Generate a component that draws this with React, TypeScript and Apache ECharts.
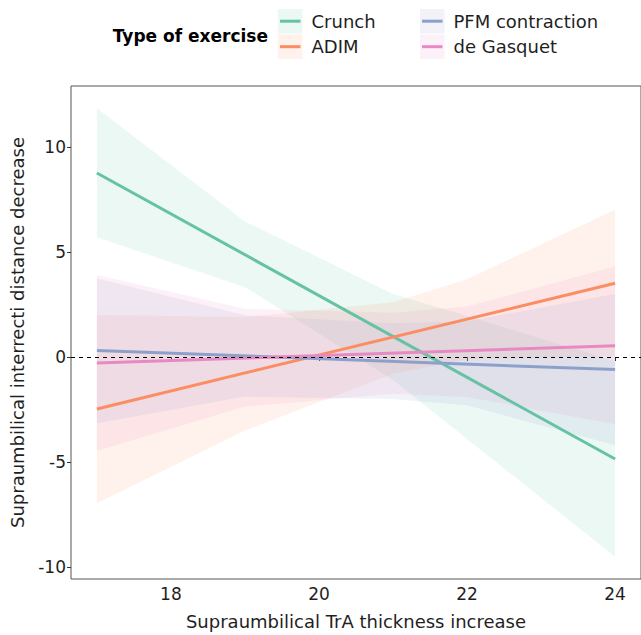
import React, { useEffect, useRef } from "react";
import * as echarts from "echarts";

// ---- data ----
const SERIES_NAMES = ["Crunch", "ADIM", "PFM contraction", "de Gasquet"];
const COLORS = ["#66C2A5", "#FC8D62", "#8DA0CB", "#E78AC3"];

// fitted lines (endpoints)
const FIT_X = [17, 24];
const CRUNCH_FIT = [8.75, -4.85];
const ADIM_FIT = [-2.47, 3.51];
const PFM_FIT = [0.31, -0.6];
const GASQUET_FIT = [-0.29, 0.54];

// confidence bands
const BAND_X = [17, 19, 21, 22, 24];
const CRUNCH_LOW = [5.7, 3.32, -1.1, -3.9, -9.5];
const CRUNCH_HIGH = [11.83, 6.45, 3.0, 1.95, -0.2];
const ADIM_LOW = [-6.96, -3.5, -0.8, -0.1, 0.05];
const ADIM_HIGH = [2.0, 1.9, 2.6, 3.7, 7.0];
const PFM_LOW = [-3.15, -1.88, -2.0, -2.3, -4.2];
const PFM_HIGH = [3.75, 1.98, 1.6, 1.7, 3.0];
const GASQUET_LOW = [-4.46, -2.35, -1.75, -1.9, -3.2];
const GASQUET_HIGH = [3.9, 2.3, 2.1, 2.4, 4.3];

const X_TICKS = [18, 20, 22, 24];
const Y_TICKS = [-10, -5, 0, 5, 10];

const FITS = [CRUNCH_FIT, ADIM_FIT, PFM_FIT, GASQUET_FIT];
const LOWS = [CRUNCH_LOW, ADIM_LOW, PFM_LOW, GASQUET_LOW];
const HIGHS = [CRUNCH_HIGH, ADIM_HIGH, PFM_HIGH, GASQUET_HIGH];

const FONT = "DejaVu Sans";
const TEXT = "#1f1f1f";

export default function App() {
  const ref = useRef<HTMLDivElement>(null);

  useEffect(() => {
    if (!ref.current) return;
    const chart = echarts.init(ref.current, undefined, { renderer: "svg" });

    const bandSeries = SERIES_NAMES.map((name, s) => ({
      type: "custom",
      name: name + " band",
      z: 1,
      silent: true,
      data: BAND_X.map((x, i) => [x, LOWS[s][i], HIGHS[s][i]]),
      encode: { x: 0, y: [1, 2] },
      renderItem: (params: any, api: any) => {
        if (params.dataIndex !== 0) return null;
        const pts: number[][] = [];
        for (let i = 0; i < BAND_X.length; i++) pts.push(api.coord([BAND_X[i], HIGHS[s][i]]));
        for (let i = BAND_X.length - 1; i >= 0; i--) pts.push(api.coord([BAND_X[i], LOWS[s][i]]));
        return {
          type: "polygon",
          shape: { points: pts },
          style: { fill: COLORS[s], opacity: 0.12 },
        };
      },
    }));

    const lineSeries = SERIES_NAMES.map((name, s) => ({
      type: "line",
      name,
      z: 3,
      silent: true,
      symbol: "none",
      data: FIT_X.map((x, i) => [x, FITS[s][i]]),
      lineStyle: { color: COLORS[s], width: 3 },
    }));

    const zeroLine = {
      type: "line",
      name: "zero",
      z: 2,
      data: [],
      markLine: {
        silent: true,
        symbol: "none",
        label: { show: false },
        data: [{ yAxis: 0 }],
        lineStyle: { type: [4, 4], color: "#000", width: 1 },
      },
    };

    // legend drawn with graphic elements
    const legend: any[] = [];
    legend.push({
      type: "text",
      x: 268,
      y: 36,
      style: {
        text: "Type of exercise",
        font: `bold 17px "${FONT}"`,
        fill: "#000",
        align: "right",
        verticalAlign: "middle",
      },
    });
    const keyPos = [
      [278, 9],
      [278, 34.5],
      [420, 9],
      [420, 34.5],
    ];
    SERIES_NAMES.forEach((name, s) => {
      const [kx, ky] = keyPos[s];
      legend.push({
        type: "rect",
        shape: { x: kx, y: ky, width: 24.5, height: 24.5 },
        style: { fill: COLORS[s], opacity: 0.12 },
      });
      legend.push({
        type: "line",
        shape: { x1: kx + 2, y1: ky + 12.2, x2: kx + 22.5, y2: ky + 12.2 },
        style: { stroke: COLORS[s], lineWidth: 3 },
      });
      legend.push({
        type: "text",
        x: kx + 33.5,
        y: ky + 12.2,
        style: {
          text: name,
          font: `18px "${FONT}"`,
          fill: TEXT,
          align: "left",
          verticalAlign: "middle",
        },
      });
    });

    chart.setOption({
      animation: false,
      backgroundColor: "#ffffff",
      grid: {
        left: 70.6,
        top: 86,
        width: 574.8,
        height: 501,
        show: true,
        borderColor: "#555555",
        borderWidth: 1,
        backgroundColor: "transparent",
      },
      xAxis: {
        type: "value",
        min: 16.65,
        max: 24.35,
        name: "Supraumbilical TrA thickness increase",
        nameLocation: "middle",
        nameGap: 33,
        nameTextStyle: { fontFamily: FONT, fontSize: 18, color: TEXT },
        axisLine: { show: false },
        splitLine: { show: false },
        axisTick: { show: true, length: 4, customValues: X_TICKS, lineStyle: { color: "#333" } },
        axisLabel: {
          customValues: X_TICKS,
          fontFamily: FONT,
          fontSize: 17,
          color: TEXT,
          margin: 6,
        },
      },
      yAxis: {
        type: "value",
        min: -10.56,
        max: 12.89,
        name: "Supraumbilical interrecti distance decrease",
        nameLocation: "middle",
        nameGap: 45,
        nameTextStyle: { fontFamily: FONT, fontSize: 18, color: TEXT },
        axisLine: { show: false },
        splitLine: { show: false },
        axisTick: { show: true, length: 4, customValues: Y_TICKS, lineStyle: { color: "#333" } },
        axisLabel: {
          customValues: Y_TICKS,
          fontFamily: FONT,
          fontSize: 17,
          color: TEXT,
          margin: 5,
        },
      },
      graphic: legend,
      series: [...bandSeries, zeroLine, ...lineSeries],
    });

    return () => chart.dispose();
  }, []);

  return (
    <div
      ref={ref}
      style={{ position: "absolute", left: 0, top: 0, width: 641, height: 635 }}
    />
  );
}
